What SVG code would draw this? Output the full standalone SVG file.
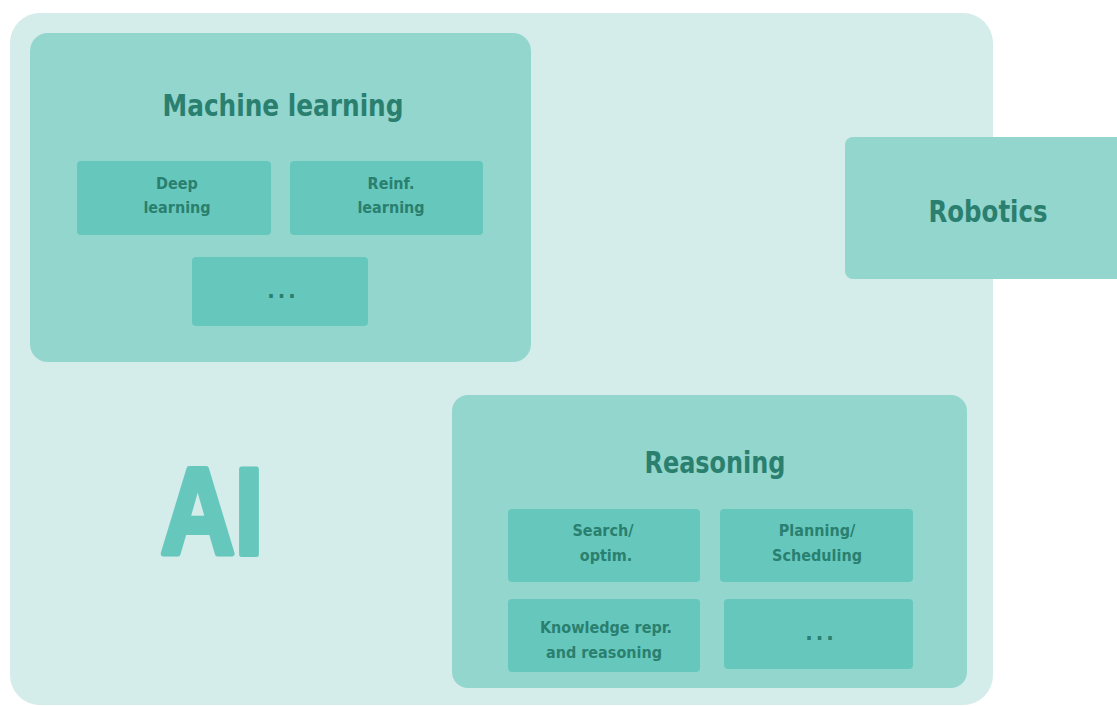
<svg xmlns="http://www.w3.org/2000/svg" width="1117" height="706" viewBox="0 0 1117 706">
<style>
.outer{fill:#d4ecea}
.mid{fill:#93d6ce}
.inner{fill:#66c8bd}
.t{font-family:"DejaVu Sans Condensed","DejaVu Sans",sans-serif;font-weight:bold;fill:#2a7f6f;text-anchor:middle}
.title{font-size:30px}
.sub{font-size:16px}
.dots{font-size:22px;letter-spacing:3px}
.ai{font-family:"Liberation Sans",Arial,sans-serif;font-weight:bold;font-size:122px;fill:#66c8bd;stroke:#66c8bd;stroke-width:6;stroke-linejoin:round;text-anchor:middle}
</style>
<rect width="1117" height="706" fill="#ffffff"/>
<g id="ai">
<rect class="outer" x="10" y="13" width="983" height="692" rx="30"/>
<text class="ai" transform="translate(212,554) scale(0.84,1)" x="0" y="0">AI</text>
</g>
<g id="robotics">
<rect class="mid" x="845" y="137" width="290" height="142" rx="8"/>
<text class="t title" x="988" y="222" textLength="119" lengthAdjust="spacingAndGlyphs">Robotics</text>
</g>
<g id="ml">
<rect class="mid" x="30" y="33" width="501" height="329" rx="18"/>
<text class="t title" x="283" y="116" textLength="241" lengthAdjust="spacingAndGlyphs">Machine learning</text>
</g>
<g id="deep">
<rect class="inner" x="77" y="161" width="194" height="74" rx="4"/>
<text class="t sub" x="177" y="189">Deep</text>
<text class="t sub" x="177" y="213">learning</text>
</g>
<g id="reinf">
<rect class="inner" x="290" y="161" width="193" height="74" rx="4"/>
<text class="t sub" x="391" y="189">Reinf.</text>
<text class="t sub" x="391" y="213">learning</text>
</g>
<g id="ml-more">
<rect class="inner" x="192" y="257" width="176" height="69" rx="4"/>
<text class="t dots" x="283" y="298">...</text>
</g>
<g id="reasoning">
<rect class="mid" x="452" y="395" width="515" height="293" rx="16"/>
<text class="t title" x="715" y="473" textLength="141" lengthAdjust="spacingAndGlyphs">Reasoning</text>
</g>
<g id="search">
<rect class="inner" x="508" y="509" width="192" height="73" rx="4"/>
<text class="t sub" x="603" y="536">Search/</text>
<text class="t sub" x="606" y="561">optim.</text>
</g>
<g id="planning">
<rect class="inner" x="720" y="509" width="193" height="73" rx="4"/>
<text class="t sub" x="817" y="536">Planning/</text>
<text class="t sub" x="817" y="561">Scheduling</text>
</g>
<g id="knowledge">
<rect class="inner" x="508" y="599" width="192" height="73" rx="4"/>
<text class="t sub" x="606" y="633">Knowledge repr.</text>
<text class="t sub" x="604" y="658">and reasoning</text>
</g>
<g id="reasoning-more">
<rect class="inner" x="724" y="599" width="189" height="70" rx="4"/>
<text class="t dots" x="821" y="640">...</text>
</g>
<g id="connectors"></g>
</svg>
